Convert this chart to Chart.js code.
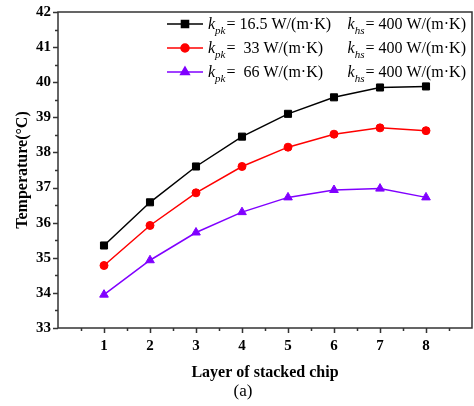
<!DOCTYPE html>
<html>
<head>
<meta charset="utf-8">
<script src="https://cdn.jsdelivr.net/npm/chart.js@4.4.1/dist/chart.umd.min.js"></script>
<style>
html, body { margin: 0; padding: 0; background: #fff; }
#wrap { width: 474px; height: 406px; }
</style>
</head>
<body>
<div id="wrap"><canvas id="chart"></canvas></div>
<script>
// data
const layers = [1, 2, 3, 4, 5, 6, 7, 8];
const tempKpk165 = [35.35, 36.58, 37.60, 38.45, 39.10, 39.57, 39.85, 39.88];
const tempKpk33 = [34.78, 35.92, 36.85, 37.60, 38.15, 38.52, 38.70, 38.62];
const tempKpk66 = [33.95, 34.93, 35.72, 36.30, 36.72, 36.93, 36.97, 36.72];
const kpkValues = ['16.5', '33', '66'];
const khsValue = '400';
const xTickLabels = ['1', '2', '3', '4', '5', '6', '7', '8'];

const SERIF = '"Liberation Serif", "Times New Roman", serif';
const FRAME = '#333';

const toPoints = (ys) => layers.map((x, i) => ({ x: x, y: ys[i] }));

// ticks + frame, drawn like Origin (major/minor, outward)
const framePlugin = {
    id: 'frame',
    afterDraw: (chart) => {
        const ctx = chart.ctx;
        const a = chart.chartArea;
        const xs = chart.scales.x, ys = chart.scales.y;
        ctx.save();
        ctx.strokeStyle = FRAME;
        ctx.lineWidth = 1.5;
        ctx.strokeRect(a.left, a.top, a.right - a.left, a.bottom - a.top);
        ctx.beginPath();
        for (let v = 0.5; v <= 8.5; v += 0.5) {
            const px = Math.round(xs.getPixelForValue(v)) + 0.5;
            const len = Number.isInteger(v) ? 5 : 3;
            ctx.moveTo(px, a.bottom);
            ctx.lineTo(px, a.bottom + len);
        }
        for (let v = 33; v <= 42; v += 0.5) {
            const py = Math.round(ys.getPixelForValue(v)) + 0.5;
            const len = Number.isInteger(v) ? 5 : 3;
            ctx.moveTo(a.left, py);
            ctx.lineTo(a.left - len, py);
        }
        ctx.stroke();

        // caption under the axis title
        ctx.fillStyle = '#000';
        ctx.font = '17px ' + SERIF;
        ctx.textAlign = 'center';
        ctx.textBaseline = 'middle';
        ctx.fillText('(a)', 243, 392);
        ctx.restore();
    }
};

// legend with italic k and subscripts
const legendPlugin = {
    id: 'richLegend',
    afterDraw: (chart) => {
        const ctx = chart.ctx;
        const main = '16px ' + SERIF, ital = 'italic 16px ' + SERIF, sub = 'italic 11px ' + SERIF;
        ctx.save();
        chart.data.datasets.forEach((ds, i) => {
            const y = 24 + i * 24;
            ctx.strokeStyle = ds.borderColor;
            ctx.lineWidth = 1.5;
            ctx.beginPath();
            ctx.moveTo(167, y);
            ctx.lineTo(203, y);
            ctx.stroke();
            ctx.fillStyle = ds.backgroundColor;
            Chart.helpers.drawPoint(ctx, {
                pointStyle: ds.pointStyle, radius: ds.pointRadius, rotation: 0, borderWidth: 1
            }, 185, y);

            ctx.fillStyle = '#000';
            ctx.textAlign = 'left';
            ctx.textBaseline = 'alphabetic';
            const base = y + 5;
            let x = 208;
            const seg = (text, font, dy) => {
                ctx.font = font;
                ctx.fillText(text, x, base + (dy || 0));
                x += ctx.measureText(text).width;
            };
            seg('k', ital);
            seg('pk', sub, 5);
            x += 1;
            seg('= ' + (i === 0 ? '' : ' ') + ds.kpk + ' W/(m\u00B7K)', main);

            // right block, right aligned to the frame
            const tail = '= ' + khsValue + ' W/(m\u00B7K)';
            ctx.font = main;
            const wTail = ctx.measureText(tail).width;
            ctx.font = ital;
            const wK = ctx.measureText('k').width;
            ctx.font = sub;
            const wHs = ctx.measureText('hs').width;
            x = 466 - wTail - wHs - wK - 1;
            seg('k', ital);
            seg('hs', sub, 5);
            x += 1;
            seg(tail, main);
        });
        ctx.restore();
    }
};

const mkSet = (ys, color, style, r, kpk) => ({
    data: toPoints(ys),
    kpk: kpk,
    borderColor: color,
    backgroundColor: color,
    borderWidth: 1.5,
    pointStyle: style,
    pointRadius: r,
    pointHoverRadius: r,
    pointBorderWidth: 1,
    tension: 0
});

new Chart(document.getElementById('chart'), {
    type: 'line',
    data: {
        datasets: [
            mkSet(tempKpk165, '#000000', 'rect', 5, kpkValues[0]),
            mkSet(tempKpk33, '#ff0000', 'circle', 4, kpkValues[1]),
            mkSet(tempKpk66, '#8000ff', 'triangle', 5, kpkValues[2])
        ]
    },
    options: {
        responsive: true,
        maintainAspectRatio: false,
        animation: false,
        layout: { autoPadding: false, padding: { top: 12, right: 2, left: 0, bottom: 0 } },
        plugins: { legend: { display: false }, tooltip: { enabled: false } },
        scales: {
            x: {
                type: 'linear', min: 0, max: 9,
                grid: { display: false, drawTicks: false },
                border: { display: false },
                ticks: {
                    stepSize: 1, padding: 9, color: '#000', maxRotation: 0,
                    font: { family: SERIF, size: 15, weight: 'bold' },
                    callback: (v) => xTickLabels[v - 1] || ''
                },
                title: {
                    display: true, text: 'Layer of stacked chip', color: '#000',
                    font: { family: SERIF, size: 16, weight: 'bold' },
                    padding: { top: 0, bottom: 24 }
                },
                afterFit: (s) => { s.height = 78; s.paddingLeft = 0; s.paddingRight = 0; }
            },
            y: {
                min: 33, max: 42,
                grid: { display: false, drawTicks: false },
                border: { display: false },
                ticks: {
                    stepSize: 1, padding: 7, color: '#000',
                    font: { family: SERIF, size: 15, weight: 'bold' }
                },
                title: {
                    display: true, text: 'Temperature(\u00B0C)', color: '#000',
                    font: { family: SERIF, size: 16, weight: 'bold' },
                    padding: { top: 13, bottom: 0 }
                },
                afterFit: (s) => { s.width = 58; s.paddingTop = 0; s.paddingBottom = 0; }
            }
        }
    },
    plugins: [framePlugin, legendPlugin]
});
</script>
</body>
</html>
